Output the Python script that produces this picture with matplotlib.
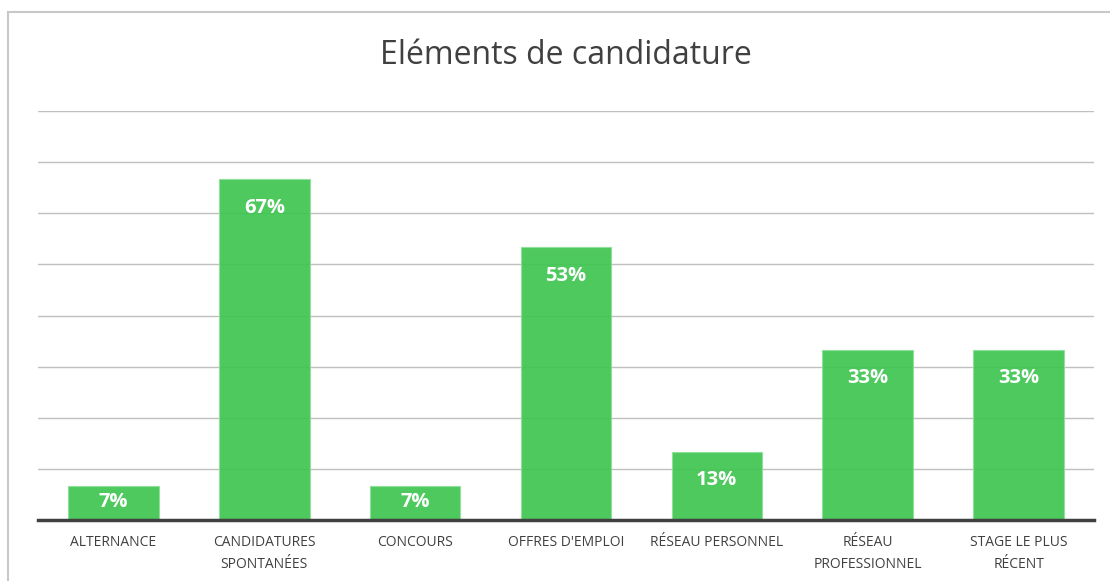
import matplotlib.pyplot as plt
from matplotlib.patches import Rectangle

# données : part des réponses (sur 15 personnes)
categories = ["ALTERNANCE", "CANDIDATURES\nSPONTANÉES", "CONCOURS", "OFFRES D'EMPLOI",
              "RÉSEAU PERSONNEL", "RÉSEAU\nPROFESSIONNEL", "STAGE LE PLUS\nRÉCENT"]
valeurs = [1 / 15, 10 / 15, 1 / 15, 8 / 15, 2 / 15, 5 / 15, 5 / 15]
etiquettes = ["7%", "67%", "7%", "53%", "13%", "33%", "33%"]

plt.rcParams['font.family'] = ['Open Sans', 'DejaVu Sans']

fig = plt.figure(figsize=(11.1, 5.81), dpi=100)
ax = fig.add_axes([38 / 1110, 1 - 520 / 581, (1094 - 38) / 1110, (520 - 111) / 581])

# cadre gris autour du graphique
fig.patches.append(Rectangle((8 / 1110, -0.1), 1.2, 1 - 12 / 581 + 0.1, transform=fig.transFigure,
                             fill=False, edgecolor='#c8c8c8', linewidth=1.5))

x = range(len(categories))
ax.bar(x, valeurs, width=0.6, color='#3fc552', alpha=0.93, edgecolor='#8ee09a', linewidth=0.8, zorder=2)

# étiquettes à l'intérieur des barres, remontées pour les barres trop courtes
for i, (v, t) in enumerate(zip(valeurs, etiquettes)):
    y = v - 0.056 if v > 0.1 else v - 0.032
    ax.text(i, y, t, ha='center', va='center', color='white', fontsize=14.5, fontweight='bold', zorder=3)

ax.set_xlim(-0.5, len(categories) - 0.5)
ax.set_ylim(0, 0.8)
ax.set_yticks([i / 10 for i in range(9)])
ax.yaxis.grid(True, color='#bfbfbf', linewidth=1, zorder=1)
ax.set_axisbelow(True)
ax.tick_params(axis='y', left=False, labelleft=False)
ax.tick_params(axis='x', bottom=False, pad=7)
ax.set_xticks(list(x))
ax.set_xticklabels(categories, fontsize=10, color='#404040', linespacing=1.65)
for s in ['top', 'right', 'left']:
    ax.spines[s].set_visible(False)
ax.spines['bottom'].set_color('#404040')
ax.spines['bottom'].set_linewidth(2.5)

fig.text(566 / 1110, 1 - 56 / 581, "Eléments de candidature", ha='center', va='center',
         fontsize=23, color='#404040')

fig.savefig('out.png', dpi=100)
plt.close(fig)
